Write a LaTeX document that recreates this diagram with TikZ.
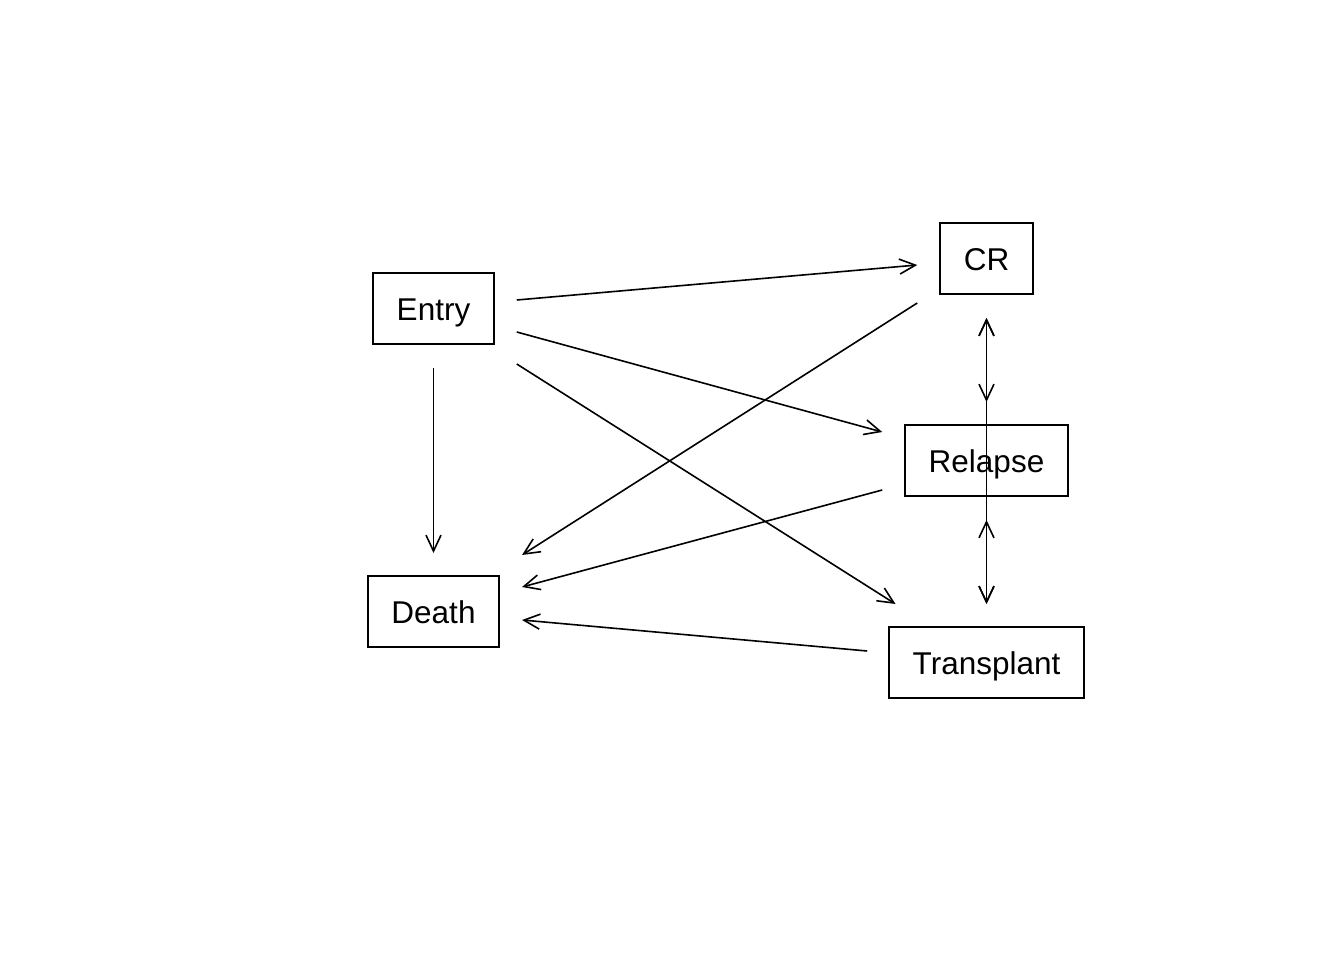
\documentclass[tikz,border=0pt]{standalone}
\usepackage{fontspec}
\setmainfont{Liberation Sans}
\usetikzlibrary{arrows.meta,calc,positioning}

\begin{document}
\begin{tikzpicture}[x=1pt,y=-1pt,align=center]
\tikzstyle{state}=[draw=black,line width=1.7pt,inner xsep=23.5pt,inner ysep=0pt,outer sep=0pt,
  minimum height=71pt,text height=24pt,text depth=0pt,font=\fontsize{31.5pt}{36pt}\selectfont]
\tikzstyle{trans}=[->,line width=1.6pt,>={Straight Barb[length=16pt,width=15pt,line width=1.6pt]}]
\tikzstyle{both}=[trans,<->]

\useasboundingbox (0,0) rectangle (1344,960);

\node[state] (entry) at (433.5,308.5) {Entry};
\node[state] (death) [below of = entry, node distance=303pt] {Death};
\node[state] (relapse) [right of = entry, node distance=553pt, yshift=-152pt] {Relapse};
\node[state] (cr) [above of = relapse, node distance=202pt] {CR};
\node[state] (transplant) [below of = relapse, node distance=202pt] {Transplant};

\path[]
  ([shift={(23,-8.5)}]entry.east) edge [trans] ([shift={(-23,6.5)}]cr.west)
  ([shift={(23,23.5)}]entry.east) edge [trans] ([shift={(-23,-28.5)}]relapse.west)
  ([shift={(23,55.5)}]entry.east) edge [trans] ([shift={(-91,-23)}]transplant.north)
  ([shift={(0,24)}]entry.south) edge [trans] ([shift={(0,-23)}]death.north)
  ([shift={(-23,44.5)}]cr.west) edge [trans] ([shift={(23,-56.5)}]death.east)
  ([shift={(-23,29.5)}]relapse.west) edge [trans] ([shift={(23,-24.5)}]death.east)
  ([shift={(-22,-11.5)}]transplant.west) edge [trans] ([shift={(23,8.5)}]death.east)
  ([shift={(0,24)}]cr.south) edge [both] ([shift={(0,-23)}]relapse.north)
  ([shift={(0,24)}]relapse.south) edge [both] ([shift={(0,-23)}]transplant.north)
  ([shift={(0,24)}]cr.south) edge [both] ([shift={(0,-23)}]transplant.north);
\end{tikzpicture}
\end{document}
